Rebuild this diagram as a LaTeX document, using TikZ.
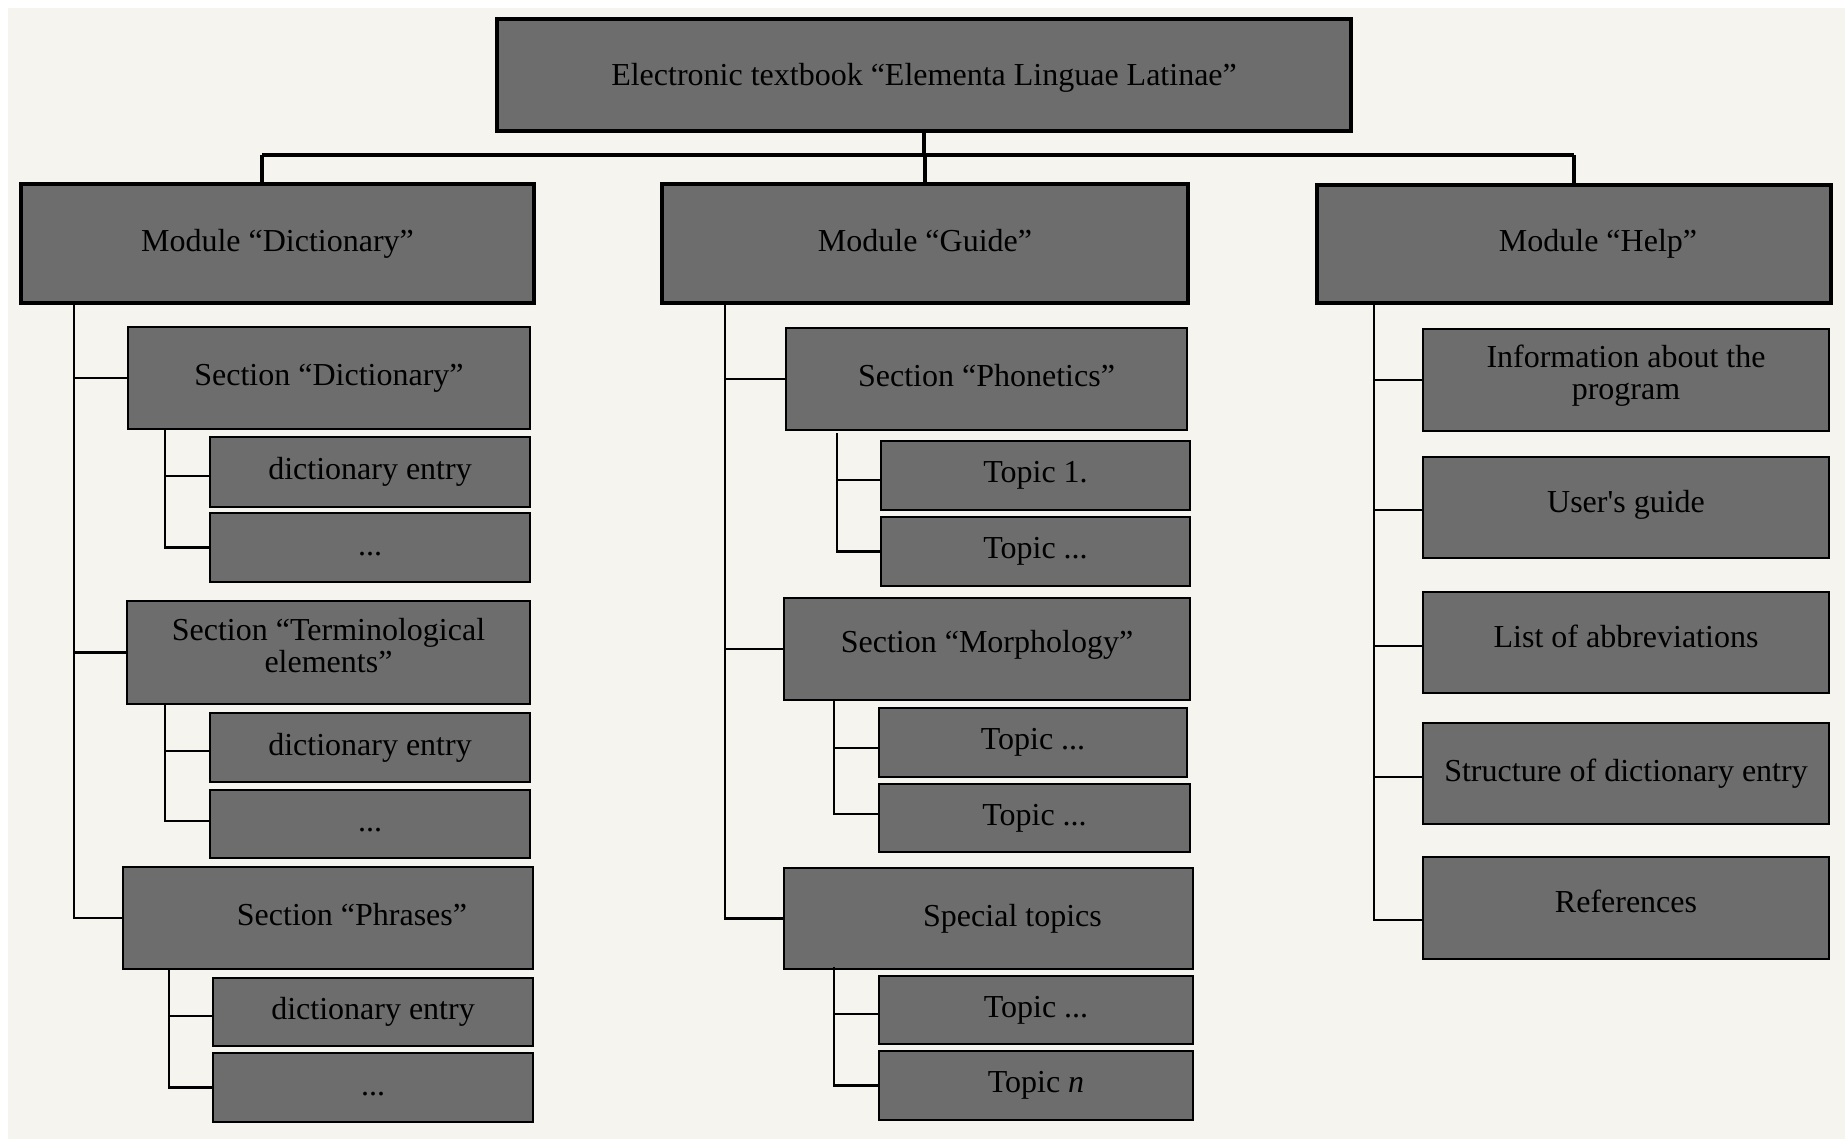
\documentclass[tikz,border=0pt]{standalone}
\usepackage{fontspec}
\setmainfont{Liberation Serif}[Ligatures=TeXOff]
\definecolor{bgpanel}{RGB}{245,244,239}
\definecolor{boxgray}{RGB}{109,109,109}
\newcommand\sdp{3.5pt}
\newcommand\sstrut{\rule[-\sdp]{0pt}{\dimexpr 11pt+\sdp\relax}}
\newcommand\rz[2]{\raisebox{#1}[\height][\depth]{#2}}
\newcommand\bx[7]{\node[#1,minimum width={(#5-#3)*0.5pt},minimum height={(#6-#4)*0.5pt}] (#2) at ({(#3+#5)/2},{(#4+#6)/2}) {#7};}
\begin{document}
\begin{tikzpicture}[x=0.5pt,y=-0.5pt,
  box/.style={draw=black,fill=boxgray,inner sep=0pt,line width=1pt,
    font=\fontsize{16}{16}\selectfont,execute at begin node=\sstrut},
  mainbox/.style={box,line width=1.7pt},
  lift/.style={execute at begin node={\renewcommand\sdp{#1}\sstrut}},
  bus/.style={draw=black,line width=2pt},
  drop/.style={draw=black,line width=1.6pt},
  trunk/.style={draw=black,line width=1.4pt},
  subl/.style={draw=black,line width=1.1pt}]
\useasboundingbox (0,0) rectangle (1845,1140);
\fill[bgpanel] (8,8) rectangle (1845,1139);

% top level
\bx{mainbox}{top}{497}{19}{1351}{131}{\rz{-1.6pt}{Electronic textbook “Elementa Linguae Latinae”}}
\bx{mainbox}{dict}{21}{184}{534}{303}{Module “Dictionary”}
\bx{mainbox}{guide}{662}{184}{1188}{303}{Module “Guide”}
\bx{mainbox}{help}{1317}{185}{1831}{303}{\hspace*{24pt}Module “Help”}

% dictionary column
\bx{box,lift=3pt}{sDict}{128}{327}{530}{429}{Section “Dictionary”}
\bx{box,lift=3.5pt}{e1}{210}{437}{530}{507}{dictionary entry}
\bx{box}{d1}{210}{513}{530}{582}{...}
\bx{box}{sTerm}{127}{601}{530}{704}{\rz{1.4pt}{\begin{tabular}{@{}c@{}}Section “Terminological\\elements”\end{tabular}}}
\bx{box,lift=3.5pt}{e2}{210}{713}{530}{782}{dictionary entry}
\bx{box}{d2}{210}{790}{530}{858}{...}
\bx{box}{sPhr}{123}{867}{533}{969}{\hspace*{24pt}Section “Phrases”}
\bx{box,lift=3.5pt}{e3}{213}{978}{533}{1046}{dictionary entry}
\bx{box}{d3}{213}{1053}{533}{1122}{...}

% guide column
\bx{box}{sPhon}{786}{328}{1187}{430}{Section “Phonetics”}
\bx{box,lift=4pt}{t1}{881}{441}{1190}{510}{Topic 1.}
\bx{box,lift=4pt}{t2}{881}{517}{1190}{586}{Topic ...}
\bx{box,lift=7.5pt}{sMorph}{784}{598}{1190}{700}{Section “Morphology”}
\bx{box,lift=4pt}{t3}{879}{708}{1187}{777}{Topic ...}
\bx{box,lift=4pt}{t4}{879}{784}{1190}{852}{Topic ...}
\bx{box}{sSpec}{784}{868}{1193}{969}{\hspace*{24pt}Special topics}
\bx{box,lift=4pt}{t5}{879}{976}{1193}{1044}{Topic ...}
\bx{box,lift=4pt}{t6}{879}{1051}{1193}{1120}{Topic \textit{n}}

% help column
\bx{box}{h1}{1423}{329}{1829}{431}{\rz{1.4pt}{\begin{tabular}{@{}c@{}}Information about the\\program\end{tabular}}}
\bx{box,lift=6.5pt}{h2}{1423}{457}{1829}{558}{User's guide}
\bx{box,lift=6.5pt}{h3}{1423}{592}{1829}{693}{List of abbreviations}
\bx{box}{h4}{1423}{723}{1829}{824}{Structure of dictionary entry}
\bx{box,lift=6.5pt}{h5}{1423}{857}{1829}{959}{References}

% top bus
\coordinate (busL) at (262,155);
\coordinate (busR) at (1574,155);
\draw[bus] (busL) -- (busR);
\draw[drop] (top.south) -- (top.south |- busL);
\draw[drop] (busL) -- (busL |- dict.north);
\draw[drop] (guide.north) -- (guide.north |- busL);
\draw[drop] (busR) -- (busR |- help.north);

% dictionary trunk
\coordinate (dT) at (74,303);
\draw[trunk] (dT) |- (sDict.west);
\draw[trunk] (dT) |- (sTerm.west);
\draw[trunk] (dT) |- (sPhr.west);
\coordinate (dS1) at (165,429);
\draw[subl] (dS1) |- ([yshift=-2pt]e1.west);
\draw[subl] (dS1) |- (d1.west);
\coordinate (dS2) at (165,704);
\draw[subl] (dS2) |- ([yshift=-1.75pt]e2.west);
\draw[subl] (dS2) |- ([yshift=1.5pt]d2.west);
\coordinate (dS3) at (169,969);
\draw[subl] (dS3) |- ([yshift=-2pt]e3.west);
\draw[subl] (dS3) |- (d3.west);

% guide trunk
\coordinate (gT) at (725,303);
\draw[trunk] (gT) |- (sPhon.west);
\draw[trunk] (gT) |- (sMorph.west);
\draw[trunk] (gT) |- (sSpec.west);
\coordinate (gS1) at (837,433);
\draw[subl] (gS1) |- ([yshift=-2.25pt]t1.west);
\draw[subl] (gS1) |- (t2.west);
\coordinate (gS2) at (834,700);
\draw[subl] (gS2) |- ([yshift=-2.75pt]t3.west);
\draw[subl] (gS2) |- ([yshift=2pt]t4.west);
\coordinate (gS3) at (834,967);
\draw[subl] (gS3) |- ([yshift=-2pt]t5.west);
\draw[subl] (gS3) |- (t6.west);

% help trunk
\coordinate (hT) at (1374,303);
\draw[trunk] (hT) |- (h1.west);
\draw[trunk] (hT) |- ([yshift=-1.25pt]h2.west);
\draw[trunk] (hT) |- ([yshift=-1.75pt]h3.west);
\draw[trunk] (hT) |- ([yshift=-1.75pt]h4.west);
\draw[trunk] (hT) |- ([yshift=-6pt]h5.west);
\end{tikzpicture}
\end{document}
